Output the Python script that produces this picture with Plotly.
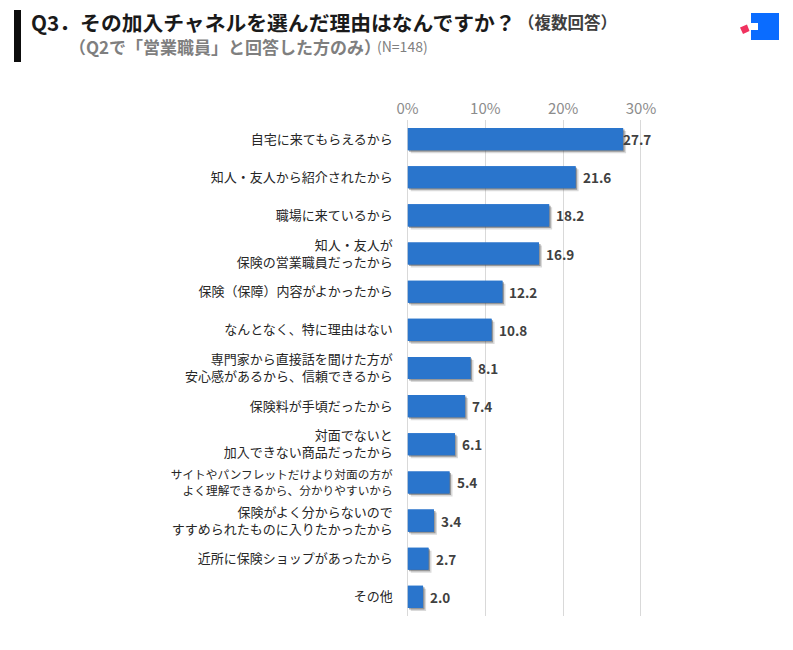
#
# Q3 bar chart: reasons for choosing the sales rep channel
import plotly.graph_objects as go

# Data
reasons = [
    '自宅に来てもらえるから',
    '知人・友人から紹介されたから',
    '職場に来ているから',
    '知人・友人が<br>保険の営業職員だったから',
    '保険（保障）内容がよかったから',
    'なんとなく、特に理由はない',
    '専門家から直接話を聞けた方が<br>安心感があるから、信頼できるから',
    '保険料が手頃だったから',
    '対面でないと<br>加入できない商品だったから',
    'サイトやパンフレットだけより対面の方が<br>よく理解できるから、分かりやすいから',
    '保険がよく分からないので<br>すすめられたものに入りたかったから',
    '近所に保険ショップがあったから',
    'その他',
]
values = [27.7, 21.6, 18.2, 16.9, 12.2, 10.8, 8.1, 7.4, 6.1, 5.4, 3.4, 2.7, 2.0]
# The top label sits right against its bar in the original
label_shift = [-2, 5, 5, 5, 5, 5, 5, 5, 5, 5, 5, 5, 5]
tick_vals = [0, 10, 20, 30]
tick_text = ['0%', '10%', '20%', '30%']

W, H = 793, 650
FONT = 'Noto Sans CJK JP'

# Plot area in pixels. Range runs past 30 because plotly drops gridlines
# closer than 1px to the end of the axis
x_max = 30.2
px_per_unit = 7.783
px0 = 407.5
px1 = px0 + x_max * px_per_unit
py0, py1 = 120, 616


def xd(p):
    return p / W


def yd(p):
    return 1 - p / H


# The long two-line label is set smaller in the original
def cat_label(text):
    if text.startswith('サイト'):
        return '<br>'.join(f'<span style="font-size:11.7px">{t}</span>' for t in text.split('<br>'))
    return text


fig = go.Figure()

# Subplots stack in axis order: base bars carry the visible axes,
# then two shadow layers nudged down-right, then the real bars on top
fig.add_trace(go.Bar(x=values, y=reasons, orientation='h',
                     marker=dict(color='#2a75cc', line=dict(width=0)),
                     hoverinfo='skip', showlegend=False))
fig.add_trace(go.Bar(x=values, y=reasons, orientation='h', xaxis='x2', yaxis='y2',
                     marker=dict(color='rgba(70,70,70,0.20)', line=dict(width=0)),
                     hoverinfo='skip', showlegend=False))
fig.add_trace(go.Bar(x=values, y=reasons, orientation='h', xaxis='x3', yaxis='y3',
                     marker=dict(color='rgba(70,70,70,0.45)', line=dict(width=0)),
                     hoverinfo='skip', showlegend=False))
fig.add_trace(go.Bar(x=values, y=reasons, orientation='h', xaxis='x4', yaxis='y4',
                     marker=dict(color='#2a75cc', line=dict(width=0)),
                     showlegend=False))

hidden = dict(range=[0, x_max], visible=False, automargin=False)
hidden_y = dict(autorange='reversed', visible=False, type='category', automargin=False,
                categoryorder='array', categoryarray=reasons)

fig.update_layout(
    width=W, height=H,
    margin=dict(l=0, r=0, t=0, b=0),
    paper_bgcolor='white', plot_bgcolor='rgba(0,0,0,0)',
    bargap=0.42,
    font=dict(family=FONT),
    xaxis=dict(domain=[xd(px0), xd(px1)], range=[0, x_max], side='top', automargin=False,
               tickvals=tick_vals, ticktext=tick_text,
               tickfont=dict(size=15, color='#8c8c8c'),
               gridcolor='#d9d9d9', gridwidth=1.3, zeroline=False,
               showline=False, ticks='', ticklabelstandoff=2),
    yaxis=dict(domain=[yd(py1), yd(py0)], autorange='reversed', type='category', automargin=False,
               categoryorder='array', categoryarray=reasons,
               tickmode='array', tickvals=reasons, ticktext=[cat_label(r) for r in reasons],
               tickfont=dict(size=13, color='#262626'),
               ticks='', showgrid=False, zeroline=False,
               showline=True, linecolor='#d9d9d9', linewidth=1.3,
               ticklabelstandoff=11),
    xaxis2=dict(domain=[xd(px0 + 3), xd(px1 + 3)], anchor='y2', **hidden),
    yaxis2=dict(domain=[yd(py1 + 3), yd(py0 + 3)], anchor='x2', **hidden_y),
    xaxis3=dict(domain=[xd(px0 + 1.5), xd(px1 + 1.5)], anchor='y3', **hidden),
    yaxis3=dict(domain=[yd(py1 + 1.5), yd(py0 + 1.5)], anchor='x3', **hidden_y),
    xaxis4=dict(domain=[xd(px0), xd(px1)], anchor='y4', **hidden),
    yaxis4=dict(domain=[yd(py1), yd(py0)], anchor='x4', **hidden_y),
)

# Value labels
for r, v, s in zip(reasons, values, label_shift):
    fig.add_annotation(x=v, y=r, xref='x4', yref='y4', text=f'<b>{v:.1f}</b>',
                       showarrow=False, xanchor='left', xshift=s, yshift=0,
                       font=dict(size=13.5, color='#404040', family=FONT))


def note(x, y, text, size, color):
    fig.add_annotation(x=x / W, y=1 - y / H, xref='paper', yref='paper', text=text,
                       showarrow=False, xanchor='left', yanchor='middle',
                       font=dict(size=size, color=color, family=FONT))


# Header
note(28.5, 22.5, '<b>Q3．その加入チャネルを選んだ理由はなんですか？</b>', 20.8, '#1a1a1a')
note(516, 22.5, '<b>（複数回答）</b>', 16.5, '#404040')
note(67, 46, '<b>（Q2で「営業職員」と回答した方のみ）</b>', 17, '#7f7f7f')
note(375, 46, '(N=148)', 14, '#7f7f7f')


def rect(x0, y0, x1, y1, color):
    fig.add_shape(type='rect', xref='paper', yref='paper', x0=x0 / W, x1=x1 / W,
                  y0=1 - y0 / H, y1=1 - y1 / H, fillcolor=color, line_width=0)


# Black bar beside the title
rect(14, 10, 21, 62, '#0d0d0d')

# Logo
rect(751, 13, 779, 40, '#0a6cff')
rect(751, 23, 758, 30, 'white')
pts = [(740, 27.5), (747, 24.5), (749.5, 31), (743, 34)]
fig.add_shape(type='path', xref='paper', yref='paper', fillcolor='#f0325f', line_width=0,
              path='M ' + ' L '.join(f'{x / W:.5f},{1 - y / H:.5f}' for x, y in pts) + ' Z')

# Page default body margin would shift everything by 8px
fig.write_html('out.html', config={'displayModeBar': False},
               post_script="document.body.style.margin='0';")
